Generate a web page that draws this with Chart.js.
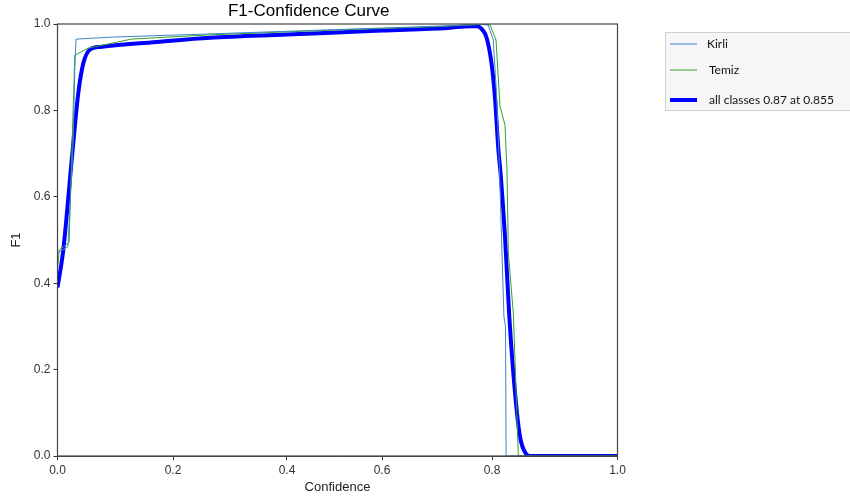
<!DOCTYPE html>
<html>
<head>
<meta charset="utf-8">
<title>F1-Confidence Curve</title>
<script src="https://cdn.jsdelivr.net/npm/chart.js@4.4.1/dist/chart.umd.min.js"></script>
<style>
  html, body { margin: 0; padding: 0; background: #fff; }
  canvas { display: block; }
</style>
</head>
<body>
<canvas id="f1Graph" width="850" height="501"></canvas>
<script>
// values
var kirliConf = [0, 0.018, 0.027, 0.030, 0.032, 0.1, 0.265, 0.5, 0.7, 0.78, 0.793, 0.802, 0.8075, 0.812, 0.819, 0.8215, 0.8225, 1.0];
var kirliF1   = [0.47, 0.485, 0.72, 0.90, 0.965, 0.970, 0.977, 0.987, 0.995, 0.999, 0.998, 0.963, 0.83, 0.66, 0.322, 0.30, 0, 0];

var temizConf = [0, 0.003, 0.020, 0.030, 0.053, 0.128, 0.265, 0.5, 0.7, 0.78, 0.7964, 0.8064, 0.8127, 0.8207, 0.8239, 0.826, 0.834, 0.842, 1.0];
var temizF1   = [0.43, 0.477, 0.494, 0.928, 0.944, 0.965, 0.975, 0.986, 0.994, 0.999, 0.998, 0.963, 0.81, 0.766, 0.66, 0.47, 0.33, 0, 0];

var allConf = [0, 0.010, 0.0246, 0.036, 0.0447, 0.0563, 0.0736, 0.1775, 0.265, 0.4, 0.6, 0.72, 0.76, 0.772, 0.7782, 0.7904, 0.7995, 0.8048, 0.81, 0.8139, 0.8207, 0.8276, 0.8367, 0.8446, 0.8542, 0.8606, 1.0];
var allF1   = [0.39, 0.477, 0.685, 0.84, 0.909, 0.941, 0.947, 0.959, 0.968, 0.9755, 0.985, 0.991, 0.995, 0.995, 0.992, 0.967, 0.905, 0.828, 0.712, 0.650, 0.508, 0.322, 0.146, 0.045, 0.005, 0, 0];

var seriesNames = ['Kirli', 'Temiz', 'all classes 0.87 at 0.855'];
var confTicks = [0, 0.2, 0.4, 0.6, 0.8, 1.0];
// where those ticks sit across the plot width in the picture (its x axis is not even)
var confTickSpots = [0, 0.2063, 0.4098, 0.5795, 0.7759, 1];

function toPoints(xs, ys) {
    return xs.map(function(x, i){ return {x: x, y: ys[i]}; });
}

function piece(d, from, to) {
    var i = 1;
    while (i < from.length - 1 && d > from[i]) i++;
    var t = (d - from[i-1]) / (from[i] - from[i-1]);
    return to[i-1] + t * (to[i] - to[i-1]);
}

class WarpedScale extends Chart.LinearScale {
    getPixelForValue(value) {
        if (value === null || value === undefined || isNaN(value)) return NaN;
        var d = (value - this._startValue) / this._valueRange;
        return this.getPixelForDecimal(piece(d, confTicks, confTickSpots));
    }
    getValueForPixel(pixel) {
        var d = piece(this.getDecimalForPixel(pixel), confTickSpots, confTicks);
        return this._startValue + d * this._valueRange;
    }
}
WarpedScale.id = 'warped';
WarpedScale.defaults = Chart.LinearScale.defaults;
Chart.register(WarpedScale);

// axes frame on all four sides
var frame = {
    id: 'frame',
    afterDatasetsDraw: function(chart) {
        var a = chart.chartArea, c = chart.ctx;
        c.save();
        c.strokeStyle = '#444';
        c.lineWidth = 1.2;
        c.strokeRect(a.left, a.top, a.right - a.left, a.bottom - a.top);
        c.restore();
    }
};

// boxed legend outside the plot, right side
var sideLegend = {
    id: 'sideLegend',
    afterDraw: function(chart) {
        var c = chart.ctx;
        var rows = [44, 70, 100];
        c.save();
        c.fillStyle = '#f6f6f8';
        c.strokeStyle = '#cfcfd4';
        c.lineWidth = 1;
        c.fillRect(665.5, 32.5, 200, 78);
        c.strokeRect(665.5, 32.5, 200, 78);
        c.font = '12px Lato';
        c.textBaseline = 'middle';
        chart.data.datasets.forEach(function(ds, i){
            c.strokeStyle = ds.borderColor;
            c.lineWidth = ds.borderWidth;
            c.beginPath();
            c.moveTo(670, rows[i]);
            c.lineTo(697, rows[i]);
            c.stroke();
            c.fillStyle = '#111';
            c.fillText(ds.label, i === 0 ? 707 : 709, rows[i]);
        });
        c.restore();
    }
};

var ctx = document.getElementById('f1Graph').getContext('2d');
var graph = new Chart(ctx, {
    type: 'line',
    data: {
        datasets: [
            {
                label: seriesNames[0],
                data: toPoints(kirliConf, kirliF1),
                borderColor: '#3d87c4',
                borderWidth: 1,
                pointRadius: 0,
                tension: 0
            },
            {
                label: seriesNames[1],
                data: toPoints(temizConf, temizF1),
                borderColor: '#33a033',
                borderWidth: 1,
                pointRadius: 0,
                tension: 0
            },
            {
                label: seriesNames[2],
                data: toPoints(allConf, allF1),
                borderColor: '#0000ff',
                borderWidth: 4,
                pointRadius: 0,
                cubicInterpolationMode: 'monotone'
            }
        ]
    },
    options: {
        responsive: false,
        animation: false,
        events: [],
        layout: {
            padding: { left: 0, right: 232.5, top: 0, bottom: 0 }
        },
        scales: {
            x: {
                type: 'warped',
                min: 0,
                max: 1,
                afterBuildTicks: function(scale){
                    scale.ticks = confTicks.map(function(v){ return {value: v}; });
                },
                afterFit: function(scale){ scale.height = 45; },
                grid: { drawOnChartArea: false, drawTicks: true, tickLength: 4, tickColor: '#333' },
                border: { display: true, color: '#444' },
                ticks: {
                    color: '#333',
                    font: { family: 'Liberation Sans', size: 12 },
                    maxRotation: 0,
                    autoSkip: false,
                    callback: function(v){ return Number(v).toFixed(1); }
                },
                title: {
                    display: true,
                    text: 'Confidence',
                    color: '#222',
                    font: { family: 'Liberation Sans', size: 13 },
                    padding: { top: 0, bottom: 6 }
                }
            },
            y: {
                min: 0,
                max: 1,
                afterFit: function(scale){ scale.width = 57.5; },
                grid: { drawOnChartArea: false, drawTicks: true, tickLength: 4, tickColor: '#333' },
                border: { display: true, color: '#444' },
                ticks: {
                    stepSize: 0.2,
                    color: '#333',
                    font: { family: 'Liberation Sans', size: 12 },
                    callback: function(v){ return Number(v).toFixed(1); }
                },
                title: {
                    display: true,
                    text: 'F1',
                    color: '#222',
                    font: { family: 'Liberation Sans', size: 13 },
                    padding: { top: 9, bottom: 0 }
                }
            }
        },
        plugins: {
            legend: { display: false },
            tooltip: { enabled: false },
            title: {
                display: true,
                text: 'F1-Confidence Curve',
                color: '#000',
                font: { family: 'Liberation Sans', size: 17, weight: 'normal' },
                padding: { top: 1.5, bottom: 2.1 }
            }
        }
    },
    plugins: [frame, sideLegend]
});
</script>
</body>
</html>
